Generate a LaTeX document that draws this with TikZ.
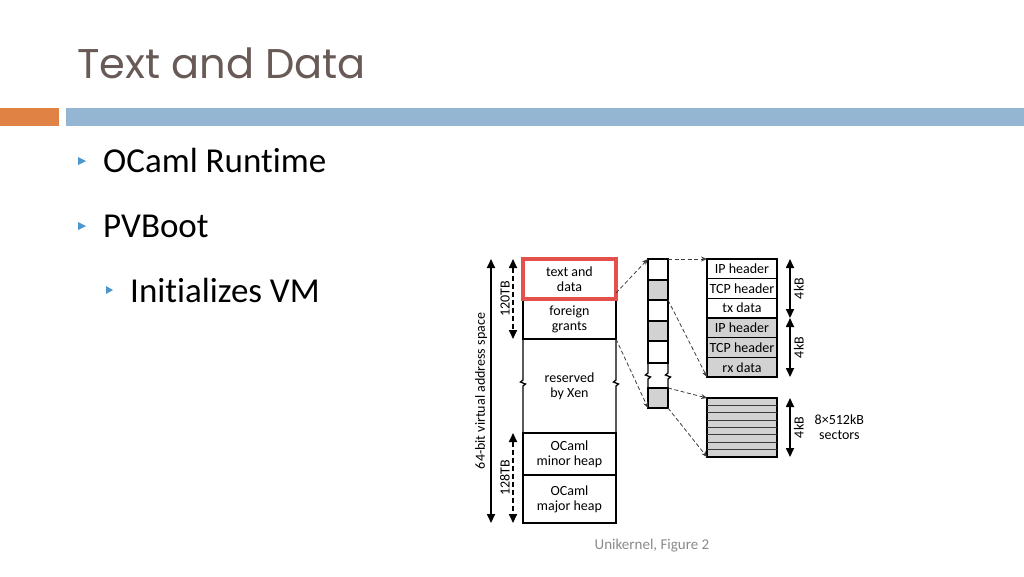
\documentclass[tikz,border=0pt]{standalone}
\usepackage{fontspec}
\setmainfont{Carlito}[Ligatures=NoCommon]
\newfontfamily\titlefont{Poppins}
\usepackage{tikz}
\usetikzlibrary{arrows.meta, positioning}
\definecolor{titlebrown}{RGB}{104, 90, 86}
\definecolor{barorange}{RGB}{223, 130, 68}
\definecolor{barblue}{RGB}{148, 182, 210}
\definecolor{bulletblue}{RGB}{75, 150, 205}
\definecolor{cellgrey}{RGB}{210, 210, 210}
\definecolor{markred}{RGB}{228, 80, 75}
\definecolor{footgrey}{RGB}{137, 137, 137}
\definecolor{linkgrey}{RGB}{60, 60, 60}

\begin{document}
\begin{tikzpicture}[
    x=1pt, y=-1pt,
    cell/.style={rectangle, draw, line width=1.3pt, inner sep=0pt, outer sep=0pt,
                 align=center, font=\fontsize{14}{15}\selectfont},
    memcell/.style={cell, minimum width=93pt},
    pagecell/.style={cell, minimum width=20pt},
    pktcell/.style={cell, minimum width=70pt, minimum height=19.67pt},
    wall/.style={line width=1.3pt},
    brk/.style={insert path={-- ++(-2.5,2) -- ++(5,2) -- ++(-2.5,2)}},
    dimarrow/.style={{Triangle[length=9pt,width=8pt]}-{Triangle[length=9pt,width=8pt]}, line width=1.7pt},
    dimdash/.style={dimarrow, dash pattern=on 5pt off 3pt},
    link/.style={-{Stealth[length=6pt,width=5pt]}, line width=0.8pt, color=linkgrey,
                 dash pattern=on 4pt off 2.5pt},
    lbl/.style={font=\fontsize{14}{15}\selectfont, inner sep=1.5pt, align=center},
    item/.style={font=\fontsize{35}{40}\selectfont, anchor=base west, inner sep=0pt},
]
    \useasboundingbox (0,0) rectangle (1024,576);

    % slide title and bars
    \node[anchor=base west, inner sep=0pt, text=titlebrown,
          font=\titlefont\fontsize{41.5}{48}\selectfont] (title) at (77,78) {Text and Data};
    \fill[barorange] (0,108) rectangle (59,126);
    \fill[barblue] (66,108) rectangle (1024,126);

    % bullets
    \node[item] (ocaml) at (103,172) {OCaml Runtime};
    \node[item] (pvboot) at (103,237) {PVBoot};
    \node[item] (initvm) at (130,302) {Initializes VM};
    \fill[bulletblue] (78,157) -- (86,161) -- (78,165) -- cycle;
    \fill[bulletblue] (78,222) -- (86,226) -- (78,230) -- cycle;
    \fill[bulletblue] (106,286) -- (113,290) -- (106,294) -- cycle;

    % virtual address space
    \node[memcell, minimum height=40pt, anchor=north west] (td) at (523,259) {text and\\data};
    \node[memcell, minimum height=40pt, below=0pt of td] (fg) {foreign\\grants};
    \node[memcell, minimum height=94pt, below=0pt of fg, draw=none] (xen) {reserved\\by Xen};
    \node[memcell, minimum height=42pt, below=0pt of xen] (minh) {OCaml\\minor heap};
    \node[memcell, minimum height=48pt, below=0pt of minh] (majh) {OCaml\\major heap};
    \draw[wall] (xen.north west) -- ++(0,41) [brk] -- (xen.south west);
    \draw[wall] (xen.north east) -- ++(0,41) [brk] -- (xen.south east);
    \draw[markred, line width=3.5pt] (td.north west) rectangle (td.south east);

    \draw[dimarrow] ([xshift=-32pt]td.north west) -- ([xshift=-32pt]majh.south west)
        node[lbl, midway, rotate=90, above, inner sep=3pt] (vas) {64-bit virtual address space};
    \draw[dimdash] ([xshift=-10pt]td.north west) -- ([xshift=-10pt]fg.south west)
        node[lbl, midway, rotate=90, above, inner sep=2.5pt] (tb120) {120TB};
    \draw[dimdash] ([xshift=-10pt]minh.north west) -- ([xshift=-10pt]majh.south west)
        node[lbl, midway, rotate=90, above, inner sep=2.5pt] (tb128) {128TB};

    % pages
    \node[pagecell, minimum height=21pt, anchor=north west] (pg1) at (648,259) {};
    \node[pagecell, minimum height=20pt, below=0pt of pg1, fill=cellgrey] (pg2) {};
    \node[pagecell, minimum height=21pt, below=0pt of pg2] (pg3) {};
    \node[pagecell, minimum height=20pt, below=0pt of pg3, fill=cellgrey] (pg4) {};
    \node[pagecell, minimum height=22pt, below=0pt of pg4] (pg5) {};
    \node[pagecell, minimum height=25pt, below=0pt of pg5, draw=none] (pg6) {};
    \node[pagecell, minimum height=20pt, below=0pt of pg6, fill=cellgrey] (pg7) {};
    \draw[wall] (pg6.north west) -- ++(0,10) [brk] -- (pg6.south west);
    \draw[wall] (pg6.north east) -- ++(0,10) [brk] -- (pg6.south east);

    % packet pages
    \node[pktcell, anchor=north west] (iph1) at (707,259) {IP header};
    \node[pktcell, below=0pt of iph1] (tcp1) {TCP header};
    \node[pktcell, below=0pt of tcp1] (txd) {tx data};
    \node[pktcell, below=0pt of txd, fill=cellgrey] (iph2) {IP header};
    \node[pktcell, below=0pt of iph2, fill=cellgrey] (tcp2) {TCP header};
    \node[pktcell, below=0pt of tcp2, fill=cellgrey] (rxd) {rx data};

    \draw[dimarrow] ([xshift=13pt]iph1.north east) -- ([xshift=13pt]txd.south east)
        node[lbl, midway, rotate=90, below, inner sep=3pt] (kb1) {4kB};
    \draw[dimarrow] ([xshift=13pt]iph2.north east) -- ([xshift=13pt]rxd.south east)
        node[lbl, midway, rotate=90, below, inner sep=3pt] (kb2) {4kB};

    % block sectors
    \node[cell, minimum width=70pt, minimum height=59pt, anchor=north west,
          fill=cellgrey] (sec) at (707,398) {};
    \foreach \i in {1,...,7}
        \draw[line width=0.8pt, color=linkgrey]
            ([yshift={-\i*7.375pt}]sec.north west) -- ([yshift={-\i*7.375pt}]sec.north east);
    \draw[dimarrow] ([xshift=13pt]sec.north east) -- ([xshift=13pt]sec.south east)
        node[lbl, midway, rotate=90, below, inner sep=3pt] (kb3) {4kB};
    \node[lbl, right=36pt of sec] (secl) {8×512kB\\sectors};

    % mappings
    \draw[link] ([yshift=6pt]td.south east) -- (pg1.north west);
    \draw[link] (fg.south east) -- (pg7.south west);
    \draw[link] (pg1.north east) -- (iph1.north west);
    \draw[link] (pg2.south east) -- (rxd.south west);
    \draw[link] (pg7.north east) -- (sec.north west);
    \draw[link] (pg7.south east) -- (sec.south west);

    % source
    \node[anchor=base, inner sep=0pt, text=footgrey, font=\fontsize{15}{18}\selectfont]
        (src) at (652,549) {Unikernel, Figure 2};
\end{tikzpicture}
\end{document}
